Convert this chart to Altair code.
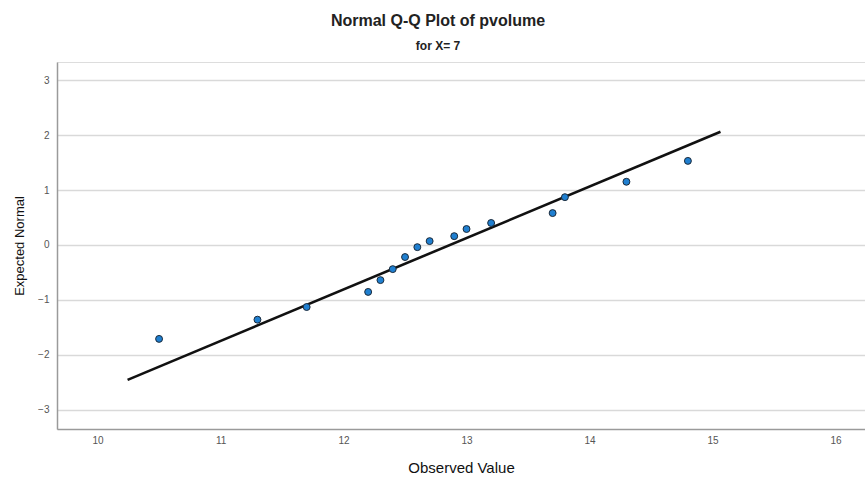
import altair as alt
import pandas as pd

observed = [10.5, 11.3, 11.7, 12.2, 12.3, 12.4, 12.5, 12.6, 12.7, 12.9, 13.0, 13.2, 13.7, 13.8, 14.3, 14.8]
expected = [-1.71, -1.36, -1.13, -0.855, -0.64, -0.44, -0.22, -0.04, 0.07, 0.16, 0.29, 0.40, 0.58, 0.87, 1.15, 1.53]

line_x = [10.244, 15.065]
line_y = [-2.455, 2.06]

x_ticks = [10, 11, 12, 13, 14, 15, 16]
y_ticks = [-3, -2, -1, 0, 1, 2, 3]

pts = pd.DataFrame({"observed": observed, "expected": expected})
ln = pd.DataFrame({"observed": line_x, "expected": line_y})

xs = alt.Scale(domain=[9.67, 16.24], nice=False, zero=False)
ys = alt.Scale(domain=[-3.35, 3.33], nice=False, zero=False)

xax = alt.Axis(values=x_ticks, format="d", title="Observed Value", grid=False, domainColor="#9a9a9a",
               domainWidth=1.5, ticks=False, labelPadding=6, labelFontSize=10, labelColor="#555555",
               labelFont="Arial", titleFont="Arial", titleFontSize=15, titleFontWeight="normal",
               titleColor="#111111", titlePadding=15)
yax = alt.Axis(values=y_ticks, format="d", title="Expected Normal", grid=True, gridColor="#d9d9d9",
               gridWidth=1.5, domainColor="#9a9a9a", domainWidth=1.5, ticks=False, labelPadding=8,
               labelFontSize=10, labelColor="#555555", labelFont="Arial", titleFont="Arial",
               titleFontSize=13, titleFontWeight="normal", titleColor="#111111", titlePadding=11)

line = alt.Chart(ln).mark_line(color="#111111", strokeWidth=2.6).encode(
    x=alt.X("observed:Q", scale=xs, axis=xax),
    y=alt.Y("expected:Q", scale=ys, axis=yax),
)
points = alt.Chart(pts).mark_point(filled=True, fill="#1f7fd0", stroke="#1b2a3a",
                                   strokeWidth=1, size=48, opacity=1, fillOpacity=1).encode(
    x=alt.X("observed:Q", scale=xs),
    y=alt.Y("expected:Q", scale=ys),
)

chart = alt.layer(line, points).properties(
    width=808,
    height=367,
    title=alt.TitleParams(
        text="Normal Q-Q Plot of pvolume",
        subtitle="for X= 7",
        font="Arial",
        fontSize=16,
        fontWeight="bold",
        color="#222222",
        subtitleFont="Arial",
        subtitleFontSize=12,
        subtitleFontWeight="bold",
        subtitleColor="#222222",
        subtitlePadding=12,
        anchor="middle",
        dx=-23,
        offset=10,
    ),
    autosize=alt.AutoSizeParams(type="none"),
    padding={"left": 57, "top": 62, "right": 0, "bottom": 48},
).configure_view(stroke=None).configure(background="white")

chart.save("out.html", embed_options={"renderer": "svg", "actions": False})
